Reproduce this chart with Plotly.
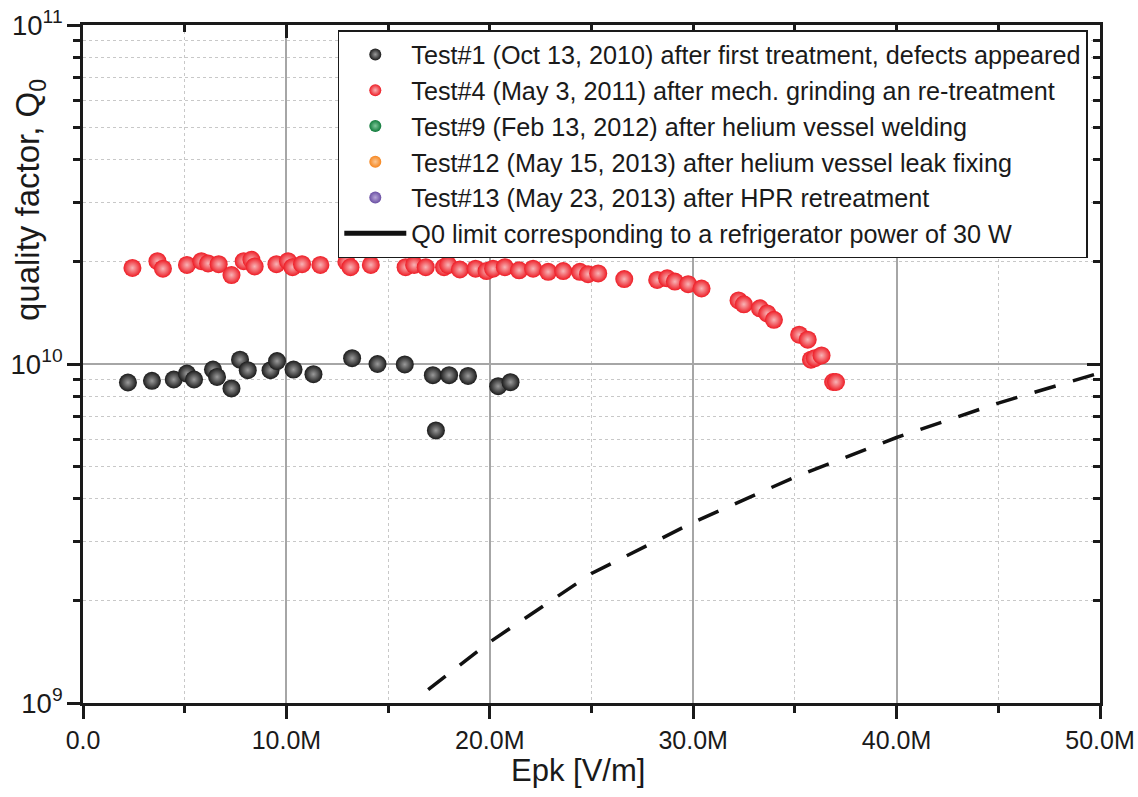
import plotly.graph_objects as go

# ---------------- data (Epk in MV/m, Q0) ----------------
test1_epk = [2.21, 3.39, 4.46, 5.11, 5.46, 6.39, 6.59, 7.30, 7.72, 8.10, 9.22, 9.54,
             10.35, 11.33, 13.23, 14.48, 15.82, 17.20, 18.00, 18.93, 17.35, 20.41, 21.02]
test1_q0 = [8.82e9, 8.92e9, 9.00e9, 9.37e9, 9.00e9, 9.63e9, 9.16e9, 8.47e9, 1.03e10, 9.59e9,
            9.59e9, 1.02e10, 9.63e9, 9.33e9, 1.04e10, 1.00e10, 9.97e9, 9.27e9, 9.27e9, 9.22e9,
            6.37e9, 8.60e9, 8.84e9]

test4_epk = [2.43, 3.66, 3.93, 5.11, 5.82, 6.15, 6.67, 7.30, 7.90, 8.28, 8.44, 9.51, 10.08,
             10.30, 10.77, 11.67, 12.95, 13.15, 14.15, 15.86, 16.28, 16.85, 17.75, 17.95,
             18.53, 19.30, 19.84, 20.16, 20.74, 21.44, 22.13, 22.87, 23.61, 24.43, 24.83,
             25.33, 26.61, 28.23, 28.72, 29.10, 29.75, 30.41, 32.23, 32.49, 33.28, 33.64,
             33.97, 35.21, 35.63, 35.79, 35.98, 36.31, 36.88, 37.02]
test4_q0 = [1.92e10, 2.01e10, 1.91e10, 1.96e10, 2.01e10, 1.98e10, 1.97e10, 1.83e10, 2.01e10,
            2.03e10, 1.94e10, 1.97e10, 2.01e10, 1.93e10, 1.97e10, 1.96e10, 2.00e10, 1.93e10,
            1.96e10, 1.93e10, 1.96e10, 1.93e10, 1.93e10, 1.96e10, 1.90e10, 1.91e10, 1.88e10,
            1.91e10, 1.93e10, 1.89e10, 1.91e10, 1.87e10, 1.88e10, 1.87e10, 1.84e10, 1.85e10,
            1.78e10, 1.77e10, 1.79e10, 1.75e10, 1.72e10, 1.67e10, 1.54e10, 1.50e10, 1.46e10,
            1.41e10, 1.35e10, 1.22e10, 1.18e10, 1.03e10, 1.04e10, 1.06e10, 8.85e9, 8.85e9]

limit_epk = [16.97, 20.0, 25.0, 30.0, 35.0, 40.0, 45.0, 50.0]
limit_q0 = [1.095e9, 1.513e9, 2.41e9, 3.41e9, 4.64e9, 6.07e9, 7.67e9, 9.42e9]

legend_names = [
    "Test#1 (Oct 13, 2010) after first treatment, defects appeared",
    "Test#4 (May 3, 2011) after mech. grinding an re-treatment",
    "Test#9 (Feb 13, 2012) after helium vessel welding",
    "Test#12 (May 15, 2013) after helium vessel leak fixing",
    "Test#13 (May 23, 2013) after HPR retreatment",
    "Q0 limit corresponding to a refrigerator power of 30 W",
]
series_colors = ["#1a1a1a", "#ee1c25", "#0f7a3a", "#f6861f", "#6a4fa3"]
series_glow = ["#9a9a9a", "#f8b4b6", "#7fc79a", "#fbc896", "#b7a6d8"]

x_tick_vals = [0, 10, 20, 30, 40, 50]
x_tick_labels = ["0.0", "10.0M", "20.0M", "30.0M", "40.0M", "50.0M"]

x_title = "Epk [V/m]"
y_title = "quality factor, Q<sub>0</sub>"

FONT = "Liberation Sans, Arial, sans-serif"
INK = "#1a1a1a"

fig = go.Figure()

series = [(test1_epk, test1_q0), (test4_epk, test4_q0), ([None], [None]), ([None], [None]), ([None], [None])]
for i, (xs, ys) in enumerate(series):
    fig.add_trace(go.Scatter(
        x=xs, y=ys, mode="markers", name=legend_names[i],
        marker=dict(size=18, color=series_colors[i], line=dict(width=0),
                    gradient=dict(type="radial", color=series_glow[i])),
    ))

# refrigerator limit (dashed on chart, solid in legend)
fig.add_trace(go.Scatter(
    x=limit_epk, y=limit_q0, mode="lines", showlegend=False,
    line=dict(color="#111111", width=3.5, dash="22px,18px"),
))
fig.add_trace(go.Scatter(
    x=[None], y=[None], mode="lines", name=legend_names[5],
    line=dict(color="#111111", width=3.5),
))

# helper trace for mirrored (top/right) axes
fig.add_trace(go.Scatter(x=[None], y=[None], xaxis="x2", yaxis="y2", showlegend=False,
                         hoverinfo="skip"))

axis_common = dict(showline=True, linecolor=INK, linewidth=3, zeroline=False, automargin=False)

fig.update_layout(
    width=1138, height=797,
    margin=dict(l=83, r=38, t=25, b=94),
    plot_bgcolor="white", paper_bgcolor="white",
    font=dict(family=FONT, color=INK),
    xaxis=dict(
        **axis_common, range=[0, 50], tickmode="array", tickvals=x_tick_vals,
        ticktext=x_tick_labels, ticks="outside", ticklen=13, tickwidth=2.5,
        tickcolor=INK, tickfont=dict(size=25), ticklabelstandoff=0,
        showgrid=True, gridcolor="#a6a6a6", gridwidth=1.5,
        minor=dict(dtick=5, ticks="outside", ticklen=7, tickwidth=2.5, tickcolor=INK,
                   showgrid=True, gridcolor="#c8c8c8", griddash="dot", gridwidth=1),
    ),
    yaxis=dict(
        **axis_common, type="log", range=[9, 11], dtick=1, exponentformat="power",
        ticks="outside", ticklen=13, tickwidth=2.5, tickcolor=INK,
        tickfont=dict(size=22),
        showgrid=True, gridcolor="#a6a6a6", gridwidth=1.5,
        minor=dict(dtick="D1", ticks="outside", ticklen=7, tickwidth=2.5, tickcolor=INK,
                   showgrid=True, gridcolor="#c8c8c8", griddash="dot", gridwidth=1),
    ),
    xaxis2=dict(
        **axis_common, overlaying="x", side="top", anchor="y2", range=[0, 50],
        tickvals=x_tick_vals, showticklabels=False, ticks="inside", ticklen=13, tickwidth=2.5,
        tickcolor=INK, showgrid=False,
        minor=dict(dtick=5, ticks="inside", ticklen=7, tickwidth=2.5, tickcolor=INK, showgrid=False),
    ),
    yaxis2=dict(
        **axis_common, overlaying="y", side="right", anchor="x2", type="log", range=[9, 11],
        dtick=1, showticklabels=False, ticks="inside", ticklen=13, tickwidth=2.5,
        tickcolor=INK, showgrid=False,
        minor=dict(dtick="D1", ticks="inside", ticklen=7, tickwidth=2.5, tickcolor=INK, showgrid=False),
    ),
    legend=dict(
        x=0.988, y=0.9926, xanchor="right", yanchor="top",
        bgcolor="white", bordercolor=INK, borderwidth=1.5,
        font=dict(size=25.2), itemwidth=62, itemsizing="constant",
    ),
    showlegend=True,
    annotations=[
        dict(text=x_title, xref="paper", yref="paper", x=0.487, y=-0.099,
             xanchor="center", yanchor="middle", showarrow=False,
             font=dict(size=31, family=FONT, color=INK)),
        dict(text=y_title, xref="paper", yref="paper", x=-0.052, y=0.742,
             xanchor="center", yanchor="middle", textangle=-90, showarrow=False,
             font=dict(size=33, family=FONT, color=INK)),
    ],
)

fig.write_html("out.html", config={"displayModeBar": False},
               post_script="document.body.style.margin='0px';document.body.style.overflow='hidden';")
